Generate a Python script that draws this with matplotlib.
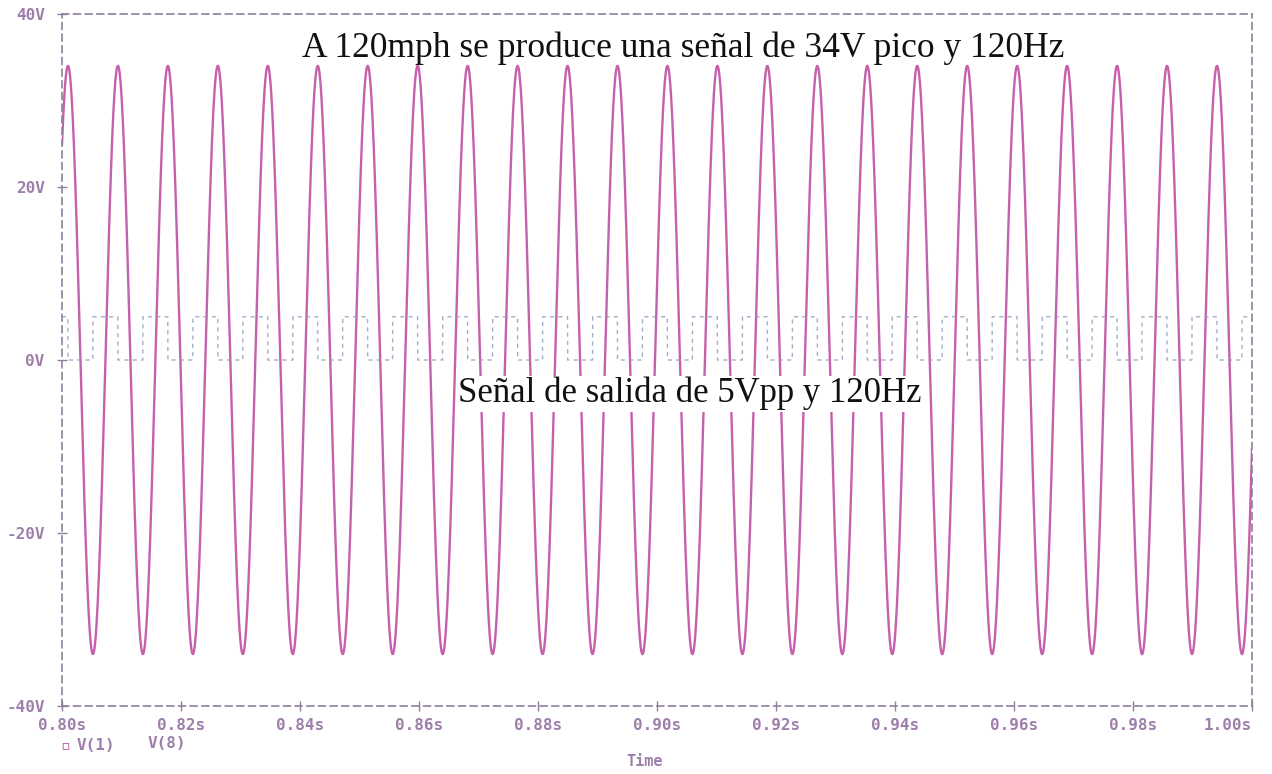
import numpy as np
import matplotlib
matplotlib.use("Agg")
import matplotlib.pyplot as plt

# ---- data ----
t_start, t_end = 0.80, 1.00          # s
x_ticks = [0.80, 0.82, 0.84, 0.86, 0.88, 0.90, 0.92, 0.94, 0.96, 0.98, 1.00]
x_tick_labels = ["0.80s", "0.82s", "0.84s", "0.86s", "0.88s", "0.90s",
                 "0.92s", "0.94s", "0.96s", "0.98s", "1.00s"]
y_ticks = [-40, -20, 0, 20, 40]
y_tick_labels = ["-40V", "-20V", "0V", "20V", "40V"]

v1_peak = 34.0        # V, sine peak (V(1))
v1_freq = 119.1       # Hz, measured spacing of peaks (nominal 120 Hz)
v1_first_peak = 0.801 # s, time of first peak
v8_levels = [0.0, 5.0]  # V, square output low / high (V(8))

title_text = "A 120mph se produce una señal de 34V pico y 120Hz"
out_text = "Señal de salida de 5Vpp y 120Hz"

# ---- signals ----
t = np.linspace(t_start, t_end, 8000)
phase = 2 * np.pi * v1_freq * (t - v1_first_peak)
v1 = v1_peak * np.cos(phase)
rising = np.sin(phase) < 0          # sine rising -> square high
v8 = np.where(rising, v8_levels[1], v8_levels[0])

W, H = 1272, 774
fig = plt.figure(figsize=(W / 100, H / 100), dpi=100)
fig.patch.set_facecolor("white")
left, right, top, bottom = 62, 1252, 14, 706
ax = fig.add_axes([left / W, (H - bottom) / H, (right - left) / W, (bottom - top) / H])

sine_col = "#c660ac"
sq_col = "#8e9ab8"
axis_col = "#8f7f9c"
txt_col = "#9e7eaa"

ax.plot(t, v1, color=sine_col, lw=1.7, zorder=2)
ax.plot(t, v8, color=sq_col, lw=1.0, ls=(0, (3, 3)), zorder=3, alpha=0.8)

ax.set_xlim(t_start, t_end)
ax.set_ylim(-40, 40)
ax.set_xticks(x_ticks)
ax.set_xticklabels(x_tick_labels)
ax.set_yticks(y_ticks)
ax.set_yticklabels(y_tick_labels)

for s in ax.spines.values():
    s.set_linestyle((0, (4, 3)))
    s.set_color(axis_col)
    s.set_linewidth(1.2)

mono = "DejaVu Sans Mono"
ax.tick_params(axis="both", direction="inout", length=7, width=1.0,
               color=axis_col, labelcolor=txt_col, labelsize=11.5)
ax.tick_params(axis="x", pad=5)
ax.tick_params(axis="y", pad=9)
for lab in ax.get_xticklabels() + ax.get_yticklabels():
    lab.set_fontfamily(mono)
    lab.set_fontweight("bold")
ax.get_xticklabels()[-1].set_horizontalalignment("right")

# annotations
ax.text(0.9044, 36.0, title_text, ha="center", va="center",
        fontsize=25.5, family="Liberation Serif", color="#111111", zorder=5)
ax.text(0.9055, -3.9, out_text, ha="center", va="center",
        fontsize=25, family="Liberation Serif", color="#111111", zorder=5,
        bbox=dict(facecolor="white", edgecolor="none", pad=1))

# bottom legend / axis title
fig.text(65 / W, 1 - 746 / H, "▫", color=sine_col, fontsize=12, ha="center",
         va="center", family=mono)
fig.text(77 / W, 1 - 745 / H, "V(1)", color=txt_col, fontsize=11.5, ha="left",
         va="center", family=mono, fontweight="bold")
fig.text(148 / W, 1 - 743 / H, "V(8)", color=txt_col, fontsize=11.5, ha="left",
         va="center", family=mono, fontweight="bold")
fig.text(645 / W, 1 - 762 / H, "Time", color=txt_col, fontsize=11, ha="center",
         va="center", family=mono, fontweight="bold")

fig.savefig("out.png", dpi=100, facecolor="white")
